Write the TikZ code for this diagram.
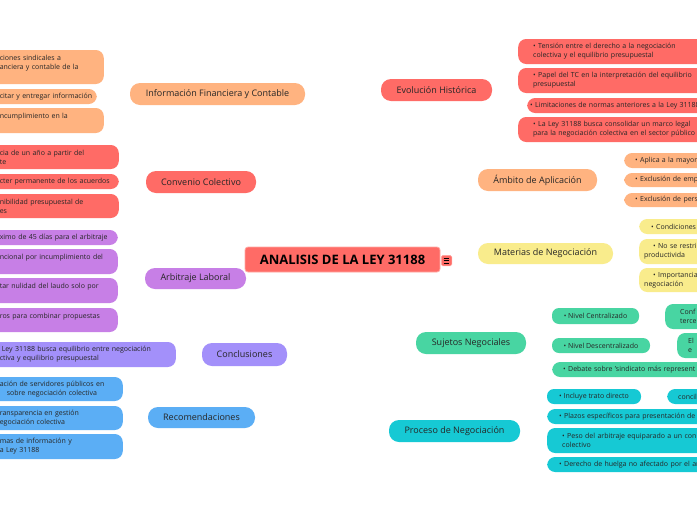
\documentclass[tikz,border=0pt]{standalone}
\usepackage{fontspec}
\setmainfont{Open Sans}
\usetikzlibrary{calc,backgrounds}
\definecolor{txt}{HTML}{262626}
\definecolor{cRed}{HTML}{FF6B66}\definecolor{lRed}{HTML}{FF8580}
\definecolor{cRedB}{HTML}{FFA8A3}
\definecolor{cOr}{HTML}{FFB380}\definecolor{lOr}{HTML}{FFC29C}
\definecolor{cPur}{HTML}{C77FE6}\definecolor{lPur}{HTML}{CF93EC}
\definecolor{cLav}{HTML}{A390FA}\definecolor{lLav}{HTML}{B8A9FB}
\definecolor{cBlu}{HTML}{5BAEF5}\definecolor{lBlu}{HTML}{72BAF6}
\definecolor{cYel}{HTML}{F9EC8C}\definecolor{lYel}{HTML}{F4E67E}
\definecolor{cGrn}{HTML}{48D5A2}\definecolor{lGrn}{HTML}{62DBAF}
\definecolor{cCya}{HTML}{16C9D4}\definecolor{lCya}{HTML}{3AD1DA}
\tikzset{
 mainn/.style={fill=#1, rounded corners=10pt, inner sep=0pt, minimum height=22pt, text=txt, font=\fontsize{9}{11}\selectfont},
 lleaf/.style={fill=#1, rounded corners=8pt, anchor=east, inner xsep=8pt, inner ysep=1pt, align=left, text=txt, font=\fontsize{7}{9.2}\selectfont},
 rleaf/.style={fill=#1, rounded corners=8pt, anchor=west, inner ysep=1pt, align=left, text width=230pt, text=txt, font=\fontsize{7}{9.2}\selectfont},
 cleaf/.style={fill=#1, rounded corners=7pt, inner sep=0pt, text=txt, font=\fontsize{7}{9.2}\selectfont},
 conn/.style={line width=1.1pt},
 sconn/.style={line width=0.9pt},
 tol/.style={out=180,in=0,looseness=1.3},
 tor/.style={out=0,in=180,looseness=1.3},
}
\begin{document}
\begin{tikzpicture}[x=1pt,y=-1pt]
\useasboundingbox (0,0) rectangle (697,520);
\clip (0,0) rectangle (697,520);
\fill[white] (0,0) rectangle (697,520);

% central and main nodes
\node[mainn=cRed, minimum width=195pt, minimum height=25pt, rounded corners=3pt, draw=cRedB, line width=0.8pt, font=\fontsize{13}{15}\selectfont\bfseries, text=black] (root) at (342.5,259.5) {ANALISIS DE LA LEY 31188};
\node[fill=cRed, draw=cRedB, line width=0.5pt, rounded corners=1.5pt, minimum size=10.5pt, inner sep=0pt] (icon) at (446.5,260.7) {};
\foreach \dy in {-2.4,0,2.4}{\draw[line width=0.7pt, black] ($(icon.center)+(-2.8,\dy)$) -- ($(icon.center)+(2.8,\dy)$);}

\node[mainn=cOr, minimum width=175pt] (info) at (217.5,94) {Información Financiera y Contable};
\node[mainn=cRed, minimum width=110pt] (conv) at (201,182) {Convenio Colectivo};
\node[mainn=cPur, minimum width=101pt, minimum height=21pt] (arb) at (195.5,278.5) {Arbitraje Laboral};
\node[mainn=cLav, minimum width=85pt, minimum height=23pt] (concl) at (244.5,354.5) {Conclusiones};
\node[mainn=cBlu, minimum width=107pt, minimum height=21pt] (recom) at (201.5,417.5) {Recomendaciones};
\node[mainn=cRed, minimum width=111pt] (evol) at (436.5,90) {Evolución Histórica};
\node[mainn=cOr, minimum width=119pt] (amb) at (537.5,180) {Ámbito de Aplicación};
\node[mainn=cYel, minimum width=135pt, minimum height=21pt] (mat) at (545.5,253.5) {Materias de Negociación};
\node[mainn=cGrn, minimum width=110pt] (suj) at (471,343) {Sujetos Negociales};
\node[mainn=cCya, minimum width=131pt] (proc) at (454.5,431) {Proceso de Negociación};

% left leaves
\node[lleaf=cOr, text width=96pt, minimum height=34pt] (i1) at (104,67) {\mbox{ciones sindicales a}\\\mbox{anciera y contable de la}\\\mbox{}};
\node[lleaf=cOr, text width=89pt, minimum height=15pt] (i2) at (97,96.5) {\mbox{citar y entregar información}};
\node[lleaf=cOr, text width=96pt, minimum height=25pt] (i3) at (104,120.5) {\mbox{ncumplimiento en la}\\\mbox{}};
\node[lleaf=cRed, text width=111pt, minimum height=24pt] (c1) at (119,157) {\mbox{cia de un año a partir del}\\\mbox{te}};
\node[lleaf=cRed, text width=111pt, minimum height=15pt] (c2) at (119,181.5) {\mbox{cter permanente de los acuerdos}};
\node[lleaf=cRed, text width=111pt, minimum height=24pt] (c3) at (119,206) {\mbox{nibilidad presupuestal de}\\\mbox{es}};
\node[lleaf=cPur, text width=110pt, minimum height=15pt] (a1) at (118,237.5) {\mbox{ximo de 45 días para el arbitraje}};
\node[lleaf=cPur, text width=110pt, minimum height=25pt] (a2) at (118,261.5) {\mbox{ncional por incumplimiento del}\\\mbox{}};
\node[lleaf=cPur, text width=110pt, minimum height=25pt] (a3) at (118,290.5) {\mbox{tar nulidad del laudo solo por}\\\mbox{}};
\node[lleaf=cPur, text width=110pt, minimum height=24pt] (a4) at (118,320) {\mbox{ros para combinar propuestas}\\\mbox{}};
\node[lleaf=cLav, text width=168pt, minimum height=25pt] (co1) at (176,354.5) {\mbox{\hspace*{2pt}Ley 31188 busca equilibrio entre negociación}\\\mbox{ctiva y equilibrio presupuestal}};
\node[lleaf=cBlu, text width=115pt, minimum height=24pt] (r1) at (123,389) {\mbox{ación de servidores públicos en}\\\mbox{\hspace*{7pt}sobre negociación colectiva}};
\node[lleaf=cBlu, text width=115pt, minimum height=24pt] (r2) at (123,418) {\mbox{ransparencia en gestión}\\\mbox{egociación colectiva}};
\node[lleaf=cBlu, text width=115pt, minimum height=25pt] (r3) at (123,446.5) {\mbox{mas de información y}\\\mbox{a Ley 31188}};

% right leaves
\node[rleaf=cRed, inner xsep=15pt, minimum height=25pt] (e1) at (518,51.5) {• Tensión entre el derecho a la negociación\\colectiva y el equilibrio presupuestal};
\node[rleaf=cRed, inner xsep=15pt, minimum height=25pt] (e2) at (518,80.5) {• Papel del TC en la interpretación del equilibrio\\presupuestal};
\node[rleaf=cRed, inner xsep=3pt, minimum height=15pt] (e3) at (527,105.5) {• Limitaciones de normas anteriores a la Ley 31188};
\node[rleaf=cRed, inner xsep=15pt, minimum height=25pt] (e4) at (518,129.5) {• La Ley 31188 busca consolidar un marco legal\\para la negociación colectiva en el sector público};

\node[rleaf=cOr, inner xsep=11pt, minimum height=15pt] (am1) at (624,160.5) {• Aplica a la mayor};
\node[rleaf=cOr, inner xsep=11pt, minimum height=14pt] (am2) at (624,180) {• Exclusión de emp};
\node[rleaf=cOr, inner xsep=11pt, minimum height=14pt] (am3) at (624,200) {• Exclusión de pers};

\node[rleaf=cYel, inner xsep=12pt, minimum height=15pt] (m1) at (639,226.5) {• Condiciones};
\node[rleaf=cYel, inner xsep=5pt, minimum height=25pt] (m2) at (639,251.5) {\hspace*{9pt}• No se restri\\productivida};
\node[rleaf=cYel, inner xsep=5pt, minimum height=24pt] (m3) at (639,280) {\hspace*{9pt}• Importancia\\negociación};

\node[cleaf=cGrn, minimum width=87pt, minimum height=16pt] (s1) at (595.5,316) {• Nivel Centralizado};
\node[rleaf=cGrn, inner xsep=15pt, minimum height=25pt] (s1a) at (665,316.5) {Conf\\terce};
\node[cleaf=cGrn, minimum width=98pt, minimum height=15pt] (s2) at (601,345.5) {• Nivel Descentralizado};
\node[rleaf=cGrn, inner xsep=11pt, minimum height=25pt] (s2a) at (677,345.5) {El\\e};
\node[rleaf=cGrn, inner xsep=11pt, minimum height=15pt] (s3) at (552,369.5) {• Debate sobre 'sindicato más represent};

\node[cleaf=cCya, minimum width=94pt, minimum height=15pt] (p1) at (594,396.5) {• Incluye trato directo};
\node[rleaf=cCya, inner xsep=11pt, minimum height=15pt] (p1a) at (667,396.5) {concil};
\node[rleaf=cCya, inner xsep=12pt, minimum height=15pt] (p2) at (547,416.5) {• Plazos específicos para presentación de};
\node[rleaf=cCya, inner xsep=15pt, minimum height=25pt] (p3) at (547,440.5) {• Peso del arbitraje equiparado a un con\\colectivo};
\node[rleaf=cCya, inner xsep=12pt, minimum height=15pt] (p4) at (547,464.5) {• Derecho de huelga no afectado por el ar};

% named points
\coordinate (rTL) at ($(root.north west)+(29,0)$);
\coordinate (rBL) at ($(root.south west)+(29,0)$);
\coordinate (rTR) at ($(root.north west)+(165,0)$);
\coordinate (rBR) at ($(root.south west)+(165,0)$);
\coordinate (fI) at (120,94);
\coordinate (fC) at (136,182);
\coordinate (fA) at (135,278.5);
\coordinate (fR) at (138,417.5);
\coordinate (fE) at (502,90);
\coordinate (fM) at (608,180);
\coordinate (fN) at (623,253.5);
\coordinate (fS) at (537,343);
\coordinate (fP) at (531,431);

\begin{pgfonlayer}{background}
% main branches
\draw[conn, lOr] (rTL) .. controls (274,180) and (280,125) .. ($(info.south east)+(-12,-2)$);
\draw[conn, lRed] (conv.east) .. controls (268,182) and (274,205) .. (rTL);
\draw[conn, lPur] (arb.east) .. controls (258,279) and (270,278) .. (rBL);
\draw[conn, lLav] (rBL) .. controls (274,310) and (283,320) .. ($(concl.north east)+(-5,3)$);
\draw[conn, lBlu] (rBL) .. controls (273,360) and (270,410) .. (recom.east);
\draw[conn, lRed] ($(evol.south west)+(11,-2)$) .. controls (398,150) and (410,200) .. (rTR);
\draw[conn, lOr] (amb.west) .. controls (440,180) and (411,205) .. (rTR);
\draw[conn, lYel] (mat.west -| root.east) -- (mat.west);
\draw[conn, lGrn] (rBR) .. controls (411,330) and (410,343) .. (suj.west);
\draw[conn, lCya] (rBR) .. controls (410,350) and (402,395) .. ($(proc.north west)+(9,2)$);
% leaf connectors
\draw[sconn, lOr] (info.west) -- (fI) (fI) to[tol] (i1.east) (fI) to[tol] (i2.east) (fI) to[tol] (i3.east);
\draw[sconn, lRed] (conv.west) -- (fC) (fC) to[tol] (c1.east) (fC) to[tol] (c2.east) (fC) to[tol] (c3.east);
\draw[sconn, lPur] (arb.west) -- (fA) (fA) to[tol] (a1.east) (fA) to[tol] (a2.east) (fA) to[tol] (a3.east) (fA) to[tol] (a4.east);
\draw[sconn, lLav] (concl.west) -- (co1.east);
\draw[sconn, lBlu] (recom.west) -- (fR) (fR) to[tol] (r1.east) (fR) to[tol] (r2.east) (fR) to[tol] (r3.east);
\draw[sconn, lRed] (evol.east) -- (fE) (fE) to[tor] (e1.west) (fE) to[tor] (e2.west) (fE) to[tor] (e3.west) (fE) to[tor] (e4.west);
\draw[sconn, lOr] (amb.east) -- (fM) (fM) to[tor] (am1.west) (fM) to[tor] (am2.west) (fM) to[tor] (am3.west);
\draw[sconn, lYel] (mat.east) -- (fN) (fN) to[tor] (m1.west) (fN) to[tor] (m2.west) (fN) to[tor] (m3.west);
\draw[sconn, lGrn] (suj.east) -- (fS) (fS) to[tor] (s1.west) (fS) to[tor] (s2.west) (fS) to[tor] (s3.west);
\draw[sconn, lGrn] (s1.east) -- (s1a.west);
\draw[sconn, lGrn] (s2.east) -- (s2a.west);
\draw[sconn, lCya] (proc.east) -- (fP) (fP) to[tor] (p1.west) (fP) to[tor] (p2.west) (fP) to[tor] (p3.west) (fP) to[tor] (p4.west);
\draw[sconn, lCya] (p1.east) -- (p1a.west);
\end{pgfonlayer}
\end{tikzpicture}
\end{document}
